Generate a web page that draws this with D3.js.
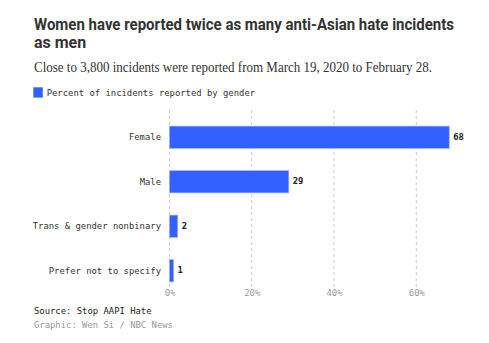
<!DOCTYPE html>
<html><head><meta charset="utf-8">
<script src="https://cdn.jsdelivr.net/npm/d3@7"></script>
<style>html,body{margin:0;padding:0;background:#fff;}</style>
</head><body>
<svg id="c" width="489" height="343"></svg>
<script>
const categories = ["Female", "Male", "Trans & gender nonbinary", "Prefer not to specify"];
const values = [68, 29, 2, 1];
const tickValues = [0, 20, 40, 60];
const tickLabels = ["0%", "20%", "40%", "60%"];
const title = ["Women have reported twice as many anti-Asian hate incidents", "as men"];
const subtitle = "Close to 3,800 incidents were reported from March 19, 2020 to February 28.";
const legendLabel = "Percent of incidents reported by gender";
const source = "Source: Stop AAPI Hate";
const credit = "Graphic: Wen Si / NBC News";

const svg = d3.select("#c");
const mono = "'DejaVu Sans Mono', 'Liberation Mono', monospace";
const blue = "#3361ff";

const x = d3.scaleLinear().domain([0, 60]).range([169.5, 416.3]);
const y = d3.scaleBand().domain(categories).range([115, 293]).paddingInner(0.5).paddingOuter(0.25);

// title
const t = svg.append("text").attr("x", 34).attr("y", 29.5)
  .attr("font-family", "Roboto, 'Liberation Sans', sans-serif").attr("font-weight", 700)
  .attr("font-size", 16).attr("fill", "#333");
t.selectAll("tspan").data(title).join("tspan")
  .attr("x", 34).attr("dy", (d, i) => i ? 18.5 : 0).text(d => d);
// fit line 1 to reference width
const t0 = t.select("tspan").node();
const w0 = t0.getComputedTextLength();
if (w0 > 420) { t.select("tspan").attr("textLength", 420).attr("lengthAdjust", "spacingAndGlyphs"); }

svg.append("text").attr("x", 34).attr("y", 71.5)
  .attr("font-family", "'Liberation Serif', 'DejaVu Serif', serif")
  .attr("font-size", 14).attr("fill", "#333").attr("textLength", 398).attr("lengthAdjust", "spacingAndGlyphs")
  .text(subtitle);

// legend
svg.append("rect").attr("x", 33.3).attr("y", 87.3).attr("width", 9.5).attr("height", 10.3).attr("fill", blue);
svg.append("text").attr("x", 46.7).attr("y", 95.5).attr("font-family", mono).attr("font-size", 8.9)
  .attr("fill", "#333").text(legendLabel);

// grid
svg.append("g").selectAll("line").data(tickValues).join("line")
  .attr("x1", d => x(d)).attr("x2", d => x(d)).attr("y1", 110).attr("y2", 287)
  .attr("stroke", "#ccc").attr("stroke-width", 1).attr("stroke-dasharray", "3,3");

// bars
svg.append("g").selectAll("rect").data(values).join("rect")
  .attr("x", x(0)).attr("y", (d, i) => y(categories[i]))
  .attr("width", d => x(d) - x(0)).attr("height", y.bandwidth())
  .attr("fill", blue).attr("stroke", "#9db2ff").attr("stroke-width", 0.6);

// category labels
svg.append("g").selectAll("text").data(categories).join("text")
  .attr("x", 161).attr("y", d => y(d) + y.bandwidth() / 2).attr("dy", "0.35em")
  .attr("text-anchor", "end").attr("font-family", mono).attr("font-size", 8.9).attr("fill", "#333")
  .text(d => d);

// value labels
svg.append("g").selectAll("text").data(values).join("text")
  .attr("x", d => x(d) + 4).attr("y", (d, i) => y(categories[i]) + y.bandwidth() / 2).attr("dy", "0.3em")
  .attr("font-family", mono).attr("font-weight", 700).attr("font-size", 8.9).attr("fill", "#222")
  .text(d => d);

// axis
const axis = d3.axisBottom(x).tickValues(tickValues).tickFormat((d, i) => tickLabels[i]).tickSize(0).tickPadding(0);
const ag = svg.append("g").attr("transform", "translate(0,289.5)").call(axis);
ag.select(".domain").remove();
ag.selectAll("text").attr("font-family", mono).attr("font-size", 8.9).attr("fill", "#999").attr("dy", "0.71em");

// footer
svg.append("text").attr("x", 34).attr("y", 313.5).attr("font-family", mono).attr("font-size", 8.9)
  .attr("fill", "#222").text(source);
svg.append("text").attr("x", 34).attr("y", 327.5).attr("font-family", mono).attr("font-size", 8.9)
  .attr("fill", "#999").text(credit);
</script>
</body></html>
